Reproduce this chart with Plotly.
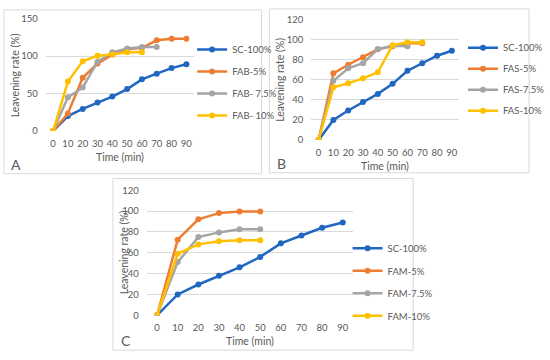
import plotly.graph_objects as go

time_min = [0, 10, 20, 30, 40, 50, 60, 70, 80, 90]

sc_100 = [0, 20, 29.5, 38, 46, 56, 69, 76.5, 84, 89]

fab_5 = [0, 23.5, 71, 90, 102, 109, 111, 121, 123, 123]
fab_75 = [0, 45, 58, 92.5, 105, 110, 112, 112]
fab_10 = [0, 66, 93, 100.5, 102, 105, 105]

fas_5 = [0, 66.5, 75, 82.5, 90.5, 93.5, 96.5, 96.5]
fas_75 = [0, 59, 71.5, 76.5, 90.5, 94, 93.5]
fas_10 = [0, 52.5, 56.5, 61.5, 67.5, 94.5, 97.5, 97.5]

fam_5 = [0, 72.5, 92, 98, 99.5, 99.5]
fam_75 = [0, 51, 75, 79.5, 82.5, 82.5]
fam_10 = [0, 59, 68, 71, 72, 72]

panels = [
    ("A", [("SC-100%", sc_100), ("FAB-5%", fab_5), ("FAB- 7.5%", fab_75), ("FAB- 10%", fab_10)]),
    ("B", [("SC-100%", sc_100), ("FAS-5%", fas_5), ("FAS-7.5%", fas_75), ("FAS-10%", fas_10)]),
    ("C", [("SC-100%", sc_100), ("FAM-5%", fam_5), ("FAM-7.5%", fam_75), ("FAM-10%", fam_10)]),
]

colors = ["#1f67c0", "#ED7D31", "#A5A5A5", "#FFC000"]

W, H = 550, 360
FONT = "Lato"
TXT = "#595959"
GRID = "#d9d9d9"

def px(x):
    return x / W

def py(y):
    return 1 - y / H

# plot areas in pixels: (left, right, top, bottom), y max
areas = [
    (47.3, 200.7, 13, 129, 150, 50),
    (322.3, 475.7, 14, 138.3, 120, 20),
    (152.0, 365.7, 190, 319, 120, 20),
]
boxes = [(4, 271, 4, 173), (279, 548, 3, 172), (117, 428, 178, 355)]
legend_pos = [(199, 30), (480, 28), (360, 235)]
legend_gap = [3, 2, 3.5]

fig = go.Figure()
layout = {}
annotations = []
shapes = []

for i, (label, series) in enumerate(panels):
    n = "" if i == 0 else str(i + 1)
    leg = "legend" if i == 0 else "legend" + str(i + 1)
    for j, (name, vals) in enumerate(series):
        fig.add_trace(go.Scatter(
            x=time_min[:len(vals)], y=vals, name=name,
            mode="lines+markers",
            line=dict(color=colors[j], width=2.5),
            marker=dict(color=colors[j], size=6),
            xaxis="x" + n, yaxis="y" + n,
            legend=leg, legendgroup=f"{label}{j}",
        ))
    l, r, t, b, ymax, dt = areas[i]
    layout["xaxis" + n] = dict(
        domain=[px(l), px(r)], anchor="y" + n, range=[-5, 95],
        tickmode="array", tickvals=time_min, ticktext=[str(v) for v in time_min],
        showgrid=False, zeroline=False, showline=False,
        tickfont=dict(family=FONT, size=9.5, color=TXT), ticklabelstandoff=5,
    )
    layout["yaxis" + n] = dict(
        domain=[py(b), py(t)], anchor="x" + n, range=[0, ymax], dtick=dt,
        showgrid=True, gridcolor=GRID, gridwidth=1, zeroline=False, showline=False,
        tickfont=dict(family=FONT, size=9.5, color=TXT), ticklabelstandoff=7,
    )
    lx, ly = legend_pos[i]
    layout[leg] = dict(
        x=px(lx), y=py(ly), xanchor="left", yanchor="top",
        font=dict(family=FONT, size=9.5, color=TXT),
        bgcolor="rgba(0,0,0,0)", borderwidth=0,
        tracegroupgap=legend_gap[i], itemwidth=30,
    )
    bl, br, bt, bb = boxes[i]
    shapes.append(dict(type="rect", xref="paper", yref="paper",
                       x0=px(bl), x1=px(br), y0=py(bb), y1=py(bt),
                       line=dict(color=GRID, width=1)))
    # axis titles
    annotations.append(dict(text="Time (min)", xref="paper", yref="paper",
                            x=px((l + r) / 2), y=py(b + 27), showarrow=False,
                            font=dict(family=FONT, size=10.5, color=TXT),
                            xanchor="center", yanchor="middle"))
    annotations.append(dict(text="Leavening rate (%)", xref="paper", yref="paper",
                            x=px(bl + 11), y=py((t + b) / 2), showarrow=False,
                            textangle=-90,
                            font=dict(family=FONT, size=10.5, color=TXT),
                            xanchor="center", yanchor="middle"))
    annotations.append(dict(text=label, xref="paper", yref="paper",
                            x=px(bl + 13), y=py(bb - 10), showarrow=False,
                            font=dict(family=FONT, size=14, color=TXT),
                            xanchor="center", yanchor="middle"))

fig.update_layout(
    width=W, height=H, margin=dict(l=0, r=0, t=0, b=0),
    paper_bgcolor="white", plot_bgcolor="white",
    showlegend=True, annotations=annotations, shapes=shapes,
    **layout,
)

fig.write_html("out.html", config={"displayModeBar": False},
               post_script="document.body.style.margin='0';document.body.style.padding='0';")
